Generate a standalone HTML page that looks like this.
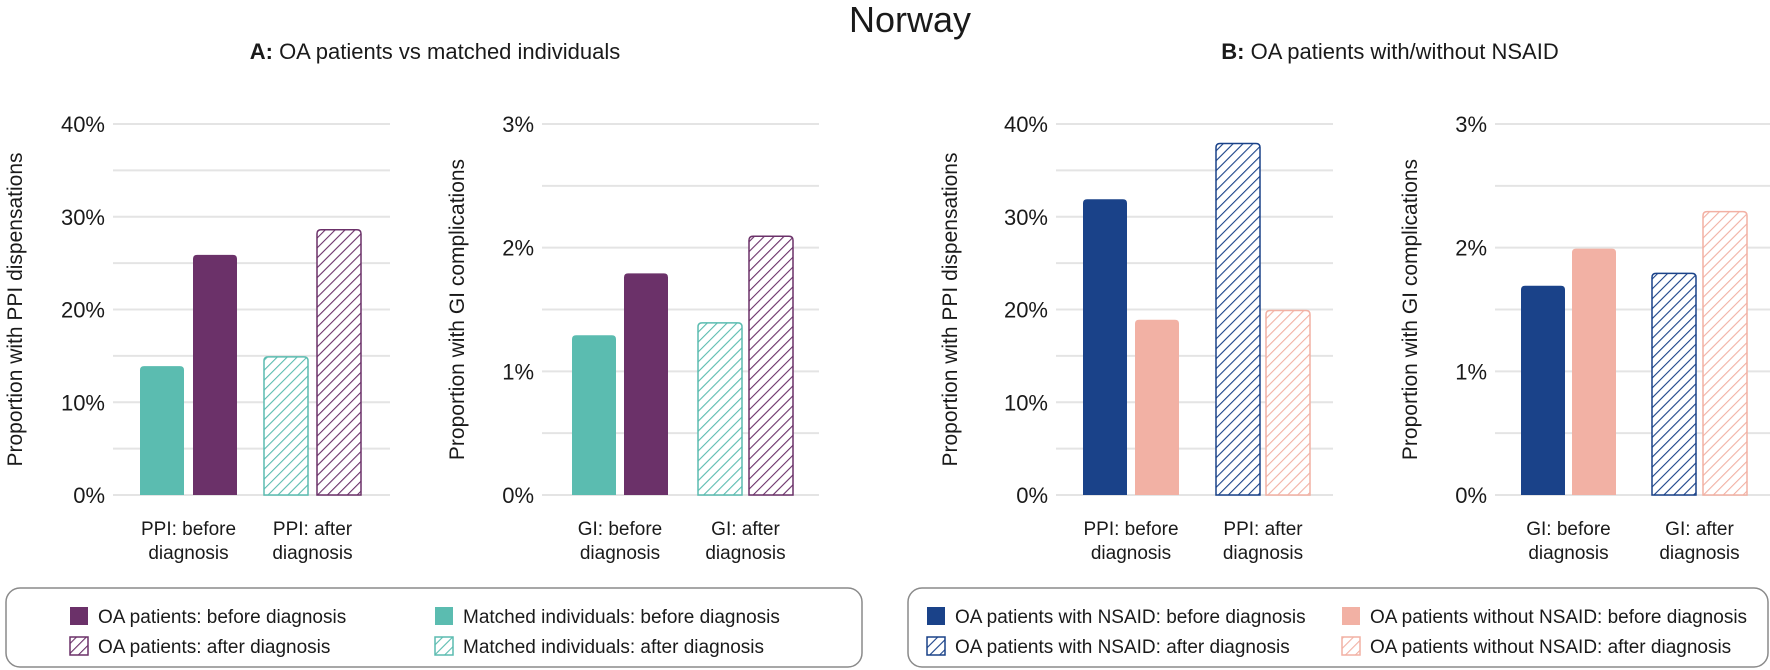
<!DOCTYPE html>
<html><head><meta charset="utf-8">
<style>
html,body{margin:0;padding:0;background:#fff;}
svg{display:block;font-family:"Liberation Sans",Arial,sans-serif;}
</style></head>
<body>
<svg id="chart" width="1770" height="670" viewBox="0 0 1770 670" xmlns="http://www.w3.org/2000/svg">
<defs>
<pattern id="h-teal" patternUnits="userSpaceOnUse" width="7" height="7" patternTransform="rotate(45)"><rect width="7" height="7" fill="#fff"/><line x1="0" y1="0" x2="0" y2="7" stroke="#5bbcb0" stroke-width="2.2"/></pattern>
<pattern id="h-purple" patternUnits="userSpaceOnUse" width="7" height="7" patternTransform="rotate(45)"><rect width="7" height="7" fill="#fff"/><line x1="0" y1="0" x2="0" y2="7" stroke="#6b3169" stroke-width="2.2"/></pattern>
<pattern id="h-blue" patternUnits="userSpaceOnUse" width="7" height="7" patternTransform="rotate(45)"><rect width="7" height="7" fill="#fff"/><line x1="0" y1="0" x2="0" y2="7" stroke="#1a4289" stroke-width="2.2"/></pattern>
<pattern id="h-salmon" patternUnits="userSpaceOnUse" width="7" height="7" patternTransform="rotate(45)"><rect width="7" height="7" fill="#fff"/><line x1="0" y1="0" x2="0" y2="7" stroke="#f2b1a4" stroke-width="2.2"/></pattern>
</defs>
<text x="910" y="32" font-size="36" text-anchor="middle" fill="#1a1a1a">Norway</text>
<text x="435" y="59" font-size="22" text-anchor="middle" fill="#1a1a1a"><tspan font-weight="bold">A:</tspan> OA patients vs matched individuals</text>
<text x="1390" y="59" font-size="22" text-anchor="middle" fill="#1a1a1a"><tspan font-weight="bold">B:</tspan> OA patients with/without NSAID</text>
<g id="panels"></g>
<g id="legends"></g>
</svg>
<script>
const ppiTicks = ["0%","10%","20%","30%","40%"];
const giTicks = ["0%","1%","2%","3%"];
const ppiCategories = ["PPI: before|diagnosis","PPI: after|diagnosis"];
const giCategories = ["GI: before|diagnosis","GI: after|diagnosis"];
const panelAValuesPPI = [14, 26, 15, 28.7];
const panelAValuesGI = [1.3, 1.8, 1.4, 2.1];
const panelBValuesPPI = [32, 19, 38, 20];
const panelBValuesGI = [1.7, 2.0, 1.8, 2.3];
const seriesA = ["matched-before","oa-before","matched-after","oa-after"];
const seriesB = ["nsaid-before","no-nsaid-before","nsaid-after","no-nsaid-after"];
const legendA = ["OA patients: before diagnosis","Matched individuals: before diagnosis","OA patients: after diagnosis","Matched individuals: after diagnosis"];
const legendB = ["OA patients with NSAID:  before diagnosis","OA patients without NSAID: before diagnosis","OA patients with NSAID: after diagnosis","OA patients without NSAID: after diagnosis"];

const NS="http://www.w3.org/2000/svg";
function mk(tag, attrs, parent){const e=document.createElementNS(NS,tag);for(const k in attrs)e.setAttribute(k,attrs[k]);parent.appendChild(e);return e;}
const fillsA=[{f:"#5bbcb0",s:"#5bbcb0"},{f:"#6b3169",s:"#6b3169"},{f:"url(#h-teal)",s:"#5bbcb0"},{f:"url(#h-purple)",s:"#6b3169"}];
const fillsB=[{f:"#1a4289",s:"#1a4289"},{f:"#f2b1a4",s:"#f2b1a4"},{f:"url(#h-blue)",s:"#1a4289"},{f:"url(#h-salmon)",s:"#f2b1a4"}];
const Y0=495, Y1=124;
const panels=[
 {name:"panel-a-ppi",gx0:113,gx1:390,max:40,ticks:ppiTicks,vals:panelAValuesPPI,cats:ppiCategories,bars:[139,192,263,316],fills:fillsA,ser:seriesA,title:"Proportion with PPI dispensations",tx:14},
 {name:"panel-a-gi",gx0:542,gx1:819,max:3,ticks:giTicks,vals:panelAValuesGI,cats:giCategories,bars:[571,623,697,748],fills:fillsA,ser:seriesA,title:"Proportion with GI complications",tx:456},
 {name:"panel-b-ppi",gx0:1056,gx1:1333,max:40,ticks:ppiTicks,vals:panelBValuesPPI,cats:ppiCategories,bars:[1082,1134,1215,1265],fills:fillsB,ser:seriesB,title:"Proportion with PPI dispensations",tx:949},
 {name:"panel-b-gi",gx0:1495,gx1:1770,max:3,ticks:giTicks,vals:panelBValuesGI,cats:giCategories,bars:[1520,1571,1651,1702],fills:fillsB,ser:seriesB,title:"Proportion with GI complications",tx:1409}
];
const root=document.getElementById("panels");
panels.forEach(p=>{
 const g=mk("g",{},root);
 
 
 const y=v=>Y0-(v/p.max)*(Y0-Y1);
 const nMajor=p.ticks.length-1;
 for(let i=0;i<=nMajor*2;i++){
  const v=p.max*i/(nMajor*2);
  const ln=mk("line",{x1:p.gx0,x2:p.gx1,y1:y(v),y2:y(v),stroke:"#e4e4e4","stroke-width":2},g);
  
  
 }
 p.ticks.forEach((t,i)=>{
  const v=p.max*i/nMajor;
  const tx=mk("text",{x:p.gx0-8,y:y(v)+8,"font-size":22,"text-anchor":"end",fill:"#1a1a1a"},g);
  tx.textContent=t;
  
  
 });
 const yt=mk("text",{x:p.tx,y:(Y0+Y1)/2+8,"font-size":21,"text-anchor":"middle",fill:"#1a1a1a",transform:`rotate(-90 ${p.tx} ${(Y0+Y1)/2})`},g);
 yt.textContent=p.title;
 
 
 p.vals.forEach((v,i)=>{
  const bx=p.bars[i], bw=46, top=y(v);
  const fl=p.fills[i];
  const hatched=i>=2;
  const r=mk("path",{d:`M${bx+1},${Y0} L${bx+1},${top+5} Q${bx+1},${top+1} ${bx+5},${top+1} L${bx+bw-5},${top+1} Q${bx+bw-1},${top+1} ${bx+bw-1},${top+5} L${bx+bw-1},${Y0} Z`,fill:fl.f,stroke:fl.s,"stroke-width":hatched?1.5:0},g);
  
  
 });
 p.cats.forEach((c,k)=>{
  const cx=(p.bars[k*2]+p.bars[k*2+1]+46)/2;
  const parts=c.split("|");
  const t=mk("text",{x:cx,y:535,"font-size":19,"text-anchor":"middle",fill:"#1a1a1a"},g);
  
  
  parts.forEach((s,j)=>{const ts=mk("tspan",{x:cx,dy:j?24:0},t);ts.textContent=s;});
 });
});
const lg=document.getElementById("legends");
function legend(name,x0,x1,labels,fills,order,c1,c2){
 const g=mk("g",{},lg);
 
 
 mk("rect",{x:x0,y:588,width:x1-x0,height:79,rx:14,fill:"#fff",stroke:"#8a8a8a","stroke-width":1.5},g);
 const cols=[c1,c2];
 labels.forEach((lab,i)=>{
  const col=i%2, row=Math.floor(i/2);
  const fl=fills[order[i]];
  const sx=cols[col], sy=row?637:607;
  const e=mk("g",{},g);
  
  
  mk("rect",{x:sx,y:sy,width:18,height:18,fill:fl.f,stroke:fl.s,"stroke-width":row?1.5:0},e);
  const t=mk("text",{x:sx+28,y:sy+16,"font-size":19,fill:"#1a1a1a"},e);
  t.textContent=lab;
 });
}
legend("legend-a",6,862,legendA,fillsA,[1,0,3,2],70,435);
legend("legend-b",908,1768,legendB,fillsB,[0,1,2,3],927,1342);
</script>
</body></html>
